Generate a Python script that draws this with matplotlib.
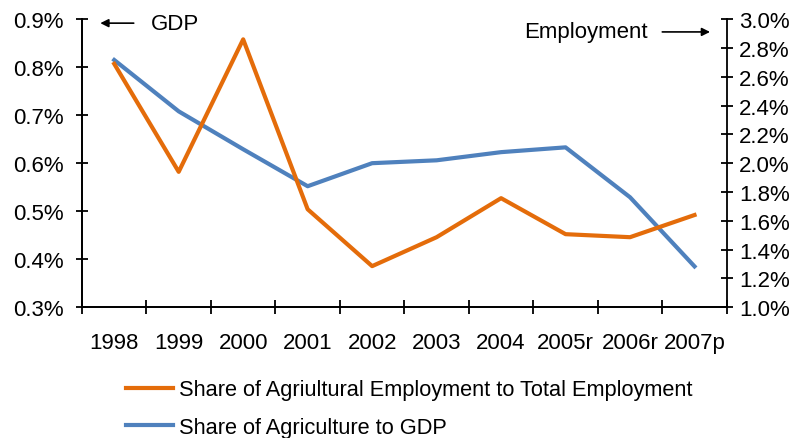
import numpy as np
import matplotlib
matplotlib.use("Agg")
import matplotlib.pyplot as plt
from matplotlib.ticker import FuncFormatter

plt.rcParams["font.family"] = ["Liberation Sans", "DejaVu Sans"]
plt.rcParams["font.size"] = 16

years = ["1998", "1999", "2000", "2001", "2002", "2003", "2004", "2005r", "2006r", "2007p"]
# share of agriculture in GDP (%), left axis
gdp_share = [0.815, 0.708, 0.629, 0.552, 0.600, 0.606, 0.623, 0.633, 0.529, 0.385]
# share of agricultural employment in total employment (%), right axis
emp_share = [2.69, 1.94, 2.86, 1.68, 1.285, 1.486, 1.757, 1.507, 1.486, 1.64]

orange = "#E46C0A"
blue = "#4F81BD"

fig = plt.figure(figsize=(7.96, 4.39), dpi=100)
ax = fig.add_axes([0.103, 0.298, 0.810, 0.656])
ax2 = ax.twinx()

x = np.arange(len(years))
l_gdp, = ax.plot(x, gdp_share, color=blue, lw=3, label="Share of Agriculture to GDP")
l_emp, = ax2.plot(x, emp_share, color=orange, lw=3,
                  label="Share of Agriultural Employment to Total Employment")

ax.set_xlim(-0.5, len(years) - 0.5)
ax.set_ylim(0.3, 0.9)
ax2.set_ylim(1.0, 3.0)
ax.set_yticks(np.arange(0.3, 0.91, 0.1))
ax2.set_yticks(np.arange(1.0, 3.01, 0.2))
ax.yaxis.set_major_formatter(FuncFormatter(lambda v, p: f"{v:.1f}%"))
ax2.yaxis.set_major_formatter(FuncFormatter(lambda v, p: f"{v:.1f}%"))

# year labels centred, tick marks between categories
ax.set_xticks(x)
ax.set_xticklabels(years)
ax.set_xticks(np.arange(-0.5, len(years), 1), minor=True)
ax.tick_params(axis="x", which="major", length=0, pad=18)
ax.tick_params(axis="x", which="minor", direction="inout", length=10, width=1.3)
ax.tick_params(axis="y", direction="inout", length=8, width=1.3, pad=9)
ax2.tick_params(axis="y", direction="inout", length=8, width=1.3, pad=5)

for a in (ax, ax2):
    a.spines["top"].set_visible(False)
    for s in ("left", "right", "bottom"):
        a.spines[s].set_linewidth(1.3)
ax.spines["right"].set_visible(False)

# axis indicator arrows
ax.annotate("", xy=(0.126, 0.945), xytext=(0.168, 0.945), xycoords="figure fraction",
            arrowprops=dict(arrowstyle="-|>", color="black", lw=1.2, mutation_scale=12,
                            shrinkA=0, shrinkB=0))
fig.text(0.190, 0.945, "GDP", ha="left", va="center", fontsize=16)
ax.annotate("", xy=(0.892, 0.925), xytext=(0.832, 0.925), xycoords="figure fraction",
            arrowprops=dict(arrowstyle="-|>", color="black", lw=1.2, mutation_scale=12,
                            shrinkA=0, shrinkB=0))
fig.text(0.814, 0.925, "Employment", ha="right", va="center", fontsize=16)

fig.legend(handles=[l_emp, l_gdp], loc="upper left", bbox_to_anchor=(0.158, 0.134),
           frameon=False, fontsize=15.7, handlelength=2.15, handletextpad=0.28,
           labelspacing=0.75, borderaxespad=0, borderpad=0)

fig.savefig("out.png", dpi=100)
